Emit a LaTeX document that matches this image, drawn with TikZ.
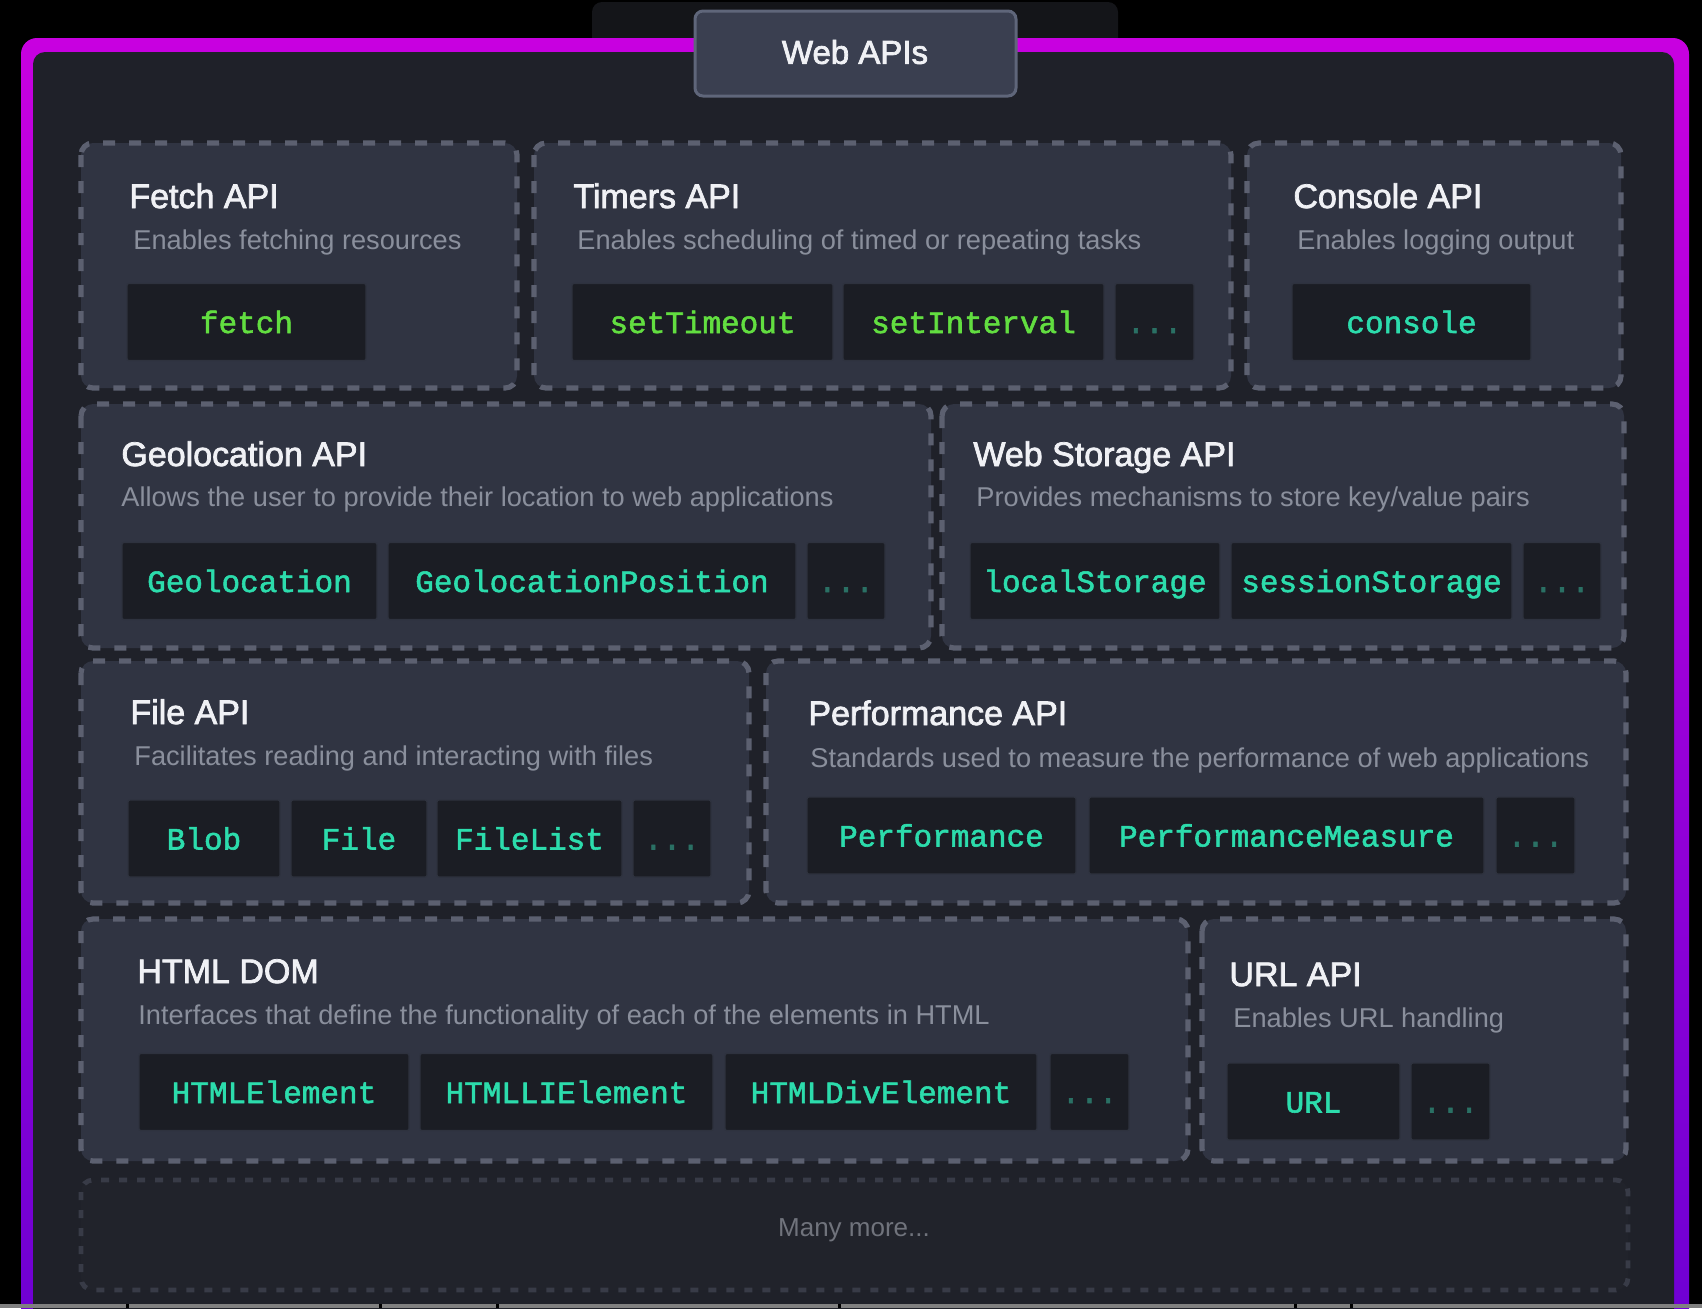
\documentclass[tikz,border=0pt]{standalone}
\usepackage{fontspec}
\setmainfont{Liberation Sans}
\setmonofont{Liberation Mono}[FakeBold=1.8]
\newfontfamily\titlefont{Liberation Sans}[FakeBold=2.2]
\usepackage{tikz}

\begin{document}
\begin{tikzpicture}[x=0.5pt,y=0.5pt,yscale=-1,xscale=1,
  group/.style={draw={rgb, 255:red, 92; green, 96; blue, 112}, fill={rgb, 255:red, 48; green, 52; blue, 66}, line width=2.6pt, dash pattern=on 6pt off 7pt, rounded corners=6pt},
  moregroup/.style={draw={rgb, 255:red, 56; green, 59; blue, 71}, fill={rgb, 255:red, 33; green, 35; blue, 43}, line width=2.4pt, dash pattern=on 4pt off 5pt, rounded corners=6pt},
  item/.style={draw={rgb, 255:red, 46; green, 50; blue, 62}, fill={rgb, 255:red, 27; green, 29; blue, 36}, line width=0.6pt, rounded corners=1pt, minimum height=38.5pt, inner sep=0pt, text height=12.5pt, text depth=1.5pt, font=\ttfamily\fontsize{15.5}{18}\selectfont},
  greencode/.style={text={rgb, 255:red, 98; green, 222; blue, 64}},
  tealcode/.style={text={rgb, 255:red, 44; green, 220; blue, 172}},
  dotcode/.style={text={rgb, 255:red, 42; green, 112; blue, 100}},
  title/.style={anchor=base west, inner sep=0pt, text={rgb, 255:red, 240; green, 241; blue, 245}, font=\titlefont\fontsize{17}{20}\selectfont},
  desc/.style={anchor=base west, inner sep=0pt, text={rgb, 255:red, 138; green, 143; blue, 156}, font=\fontsize{13.6}{16}\selectfont}]

\clip (0,0) rectangle (1702,1308);
\fill [black] (0,0) rectangle (1702,1308);

%Shape: Rectangle behind the tab
\fill [color={rgb, 255:red, 20; green, 21; blue, 25}, rounded corners=5pt] (592,2) rectangle (1118,60);
%Shape: Outer frame
\shade [rounded corners=8pt, top color={rgb, 255:red, 200; green, 0; blue, 224}, bottom color={rgb, 255:red, 108; green, 0; blue, 210}] (21,38) rectangle (1689,1360);
\fill [color={rgb, 255:red, 31; green, 33; blue, 41}, rounded corners=6pt] (33,52) rectangle (1674,1360);

%Shape: Tab
\draw [draw={rgb, 255:red, 95; green, 102; blue, 122}, fill={rgb, 255:red, 58; green, 63; blue, 80}, line width=1.5pt, rounded corners=4pt] (695,11) rectangle (1016,96);
% Text Node
\node [inner sep=0pt, text={rgb, 255:red, 240; green, 241; blue, 245}, font=\titlefont\fontsize{16.5}{20}\selectfont] (webapis) at (855,52) {Web APIs};

%Shape: Rectangle [Fetch API]
\draw [group] (81,143) rectangle (517,388);
% Text Node
\node [title] (fetchT) at (129,208) {Fetch API};
\node [desc] (fetchD) at (133,249) {Enables fetching resources};
\node [item, greencode, minimum width=119.5pt] (fetch) at (246.5,322) {fetch};

%Shape: Rectangle [Timers API]
\draw [group] (534,143) rectangle (1231,388);
% Text Node
\node [title] (timersT) at (573,208) {Timers API};
\node [desc] (timersD) at (577,249) {Enables scheduling of timed or repeating tasks};
\node [item, greencode, minimum width=130.5pt] (settimeout) at (702.5,322) {setTimeout};
\node [item, greencode, minimum width=130.5pt] (setinterval) at (973.5,322) {setInterval};
\node [item, dotcode, minimum width=39.5pt] (timersmore) at (1154.5,322) {...};

%Shape: Rectangle [Console API]
\draw [group] (1247,143) rectangle (1621,388);
% Text Node
\node [title] (consoleT) at (1293,208) {Console API};
\node [desc] (consoleD) at (1297,249) {Enables logging output};
\node [item, tealcode, minimum width=119.5pt] (console) at (1411.5,322) {console};

%Shape: Rectangle [Geolocation API]
\draw [group] (81,404) rectangle (931,648);
% Text Node
\node [title] (geoT) at (121,466) {Geolocation API};
\node [desc] (geoD) at (121,506) {Allows the user to provide their location to web applications};
\node [item, tealcode, minimum width=127.5pt] (geolocation) at (249.5,581) {Geolocation};
\node [item, tealcode, minimum width=204pt] (geoposition) at (592,581) {GeolocationPosition};
\node [item, dotcode, minimum width=39pt] (geomore) at (846,581) {...};

%Shape: Rectangle [Web Storage API]
\draw [group] (942,404) rectangle (1624,648);
% Text Node
\node [title] (storageT) at (973,466) {Web Storage API};
\node [desc] (storageD) at (976,506) {Provides mechanisms to store key/value pairs};
\node [item, tealcode, minimum width=125pt] (localstorage) at (1095,581) {localStorage};
\node [item, tealcode, minimum width=140.5pt] (sessionstorage) at (1371.5,581) {sessionStorage};
\node [item, dotcode, minimum width=39pt] (storagemore) at (1562,581) {...};

%Shape: Rectangle [File API]
\draw [group] (81,661) rectangle (749,903);
% Text Node
\node [title] (fileT) at (130,724) {File API};
\node [desc] (fileD) at (134,765) {Facilitates reading and interacting with files};
\node [item, tealcode, minimum width=76pt] (blob) at (204,838.5) {Blob};
\node [item, tealcode, minimum width=68pt] (file) at (359,838.5) {File};
\node [item, tealcode, minimum width=92.5pt] (filelist) at (529.5,838.5) {FileList};
\node [item, dotcode, minimum width=39pt] (filemore) at (672,838.5) {...};

%Shape: Rectangle [Performance API]
\draw [group] (766,661) rectangle (1626,903);
% Text Node
\node [title] (perfT) at (808,725) {Performance API};
\node [desc] (perfD) at (810,767) {Standards used to measure the performance of web applications};
\node [item, tealcode, minimum width=134.5pt] (performance) at (941.5,835.5) {Performance};
\node [item, tealcode, minimum width=197.5pt] (perfmeasure) at (1286.5,835.5) {PerformanceMeasure};
\node [item, dotcode, minimum width=39.5pt] (perfmore) at (1535.5,835.5) {...};

%Shape: Rectangle [HTML DOM]
\draw [group] (81,919) rectangle (1188,1161);
% Text Node
\node [title] (domT) at (137,983) {HTML DOM};
\node [desc] (domD) at (138,1024) {Interfaces that define the functionality of each of the elements in HTML};
\node [item, tealcode, minimum width=135pt] (htmlelement) at (274,1092) {HTMLElement};
\node [item, tealcode, minimum width=146.5pt] (htmllielement) at (566.5,1092) {HTMLLIElement};
\node [item, tealcode, minimum width=156pt] (htmldivelement) at (881,1092) {HTMLDivElement};
\node [item, dotcode, minimum width=39.5pt] (dommore) at (1089.5,1092) {...};

%Shape: Rectangle [URL API]
\draw [group] (1202,919) rectangle (1626,1161);
% Text Node
\node [title] (urlT) at (1229,986) {URL API};
\node [desc] (urlD) at (1233,1027) {Enables URL handling};
\node [item, tealcode, minimum width=86.5pt] (url) at (1313.5,1101.5) {URL};
\node [item, dotcode, minimum width=39.5pt] (urlmore) at (1450.5,1101.5) {...};

%Shape: Rectangle [Many more]
\draw [moregroup] (81,1180) rectangle (1628,1290);
% Text Node
\node [inner sep=0pt, text={rgb, 255:red, 112; green, 115; blue, 124}, font=\fontsize{13}{16}\selectfont] (manymore) at (854,1230) {Many more...};

%Shape: strip at the bottom
\fill [color={rgb, 255:red, 128; green, 128; blue, 128}] (0,1304) rectangle (1702,1308);
\foreach \gx in {127,380,497,839,1295,1351}
  \fill [black] (\gx-1.5,1304) rectangle (\gx+1.5,1308);

\end{tikzpicture}
\end{document}
